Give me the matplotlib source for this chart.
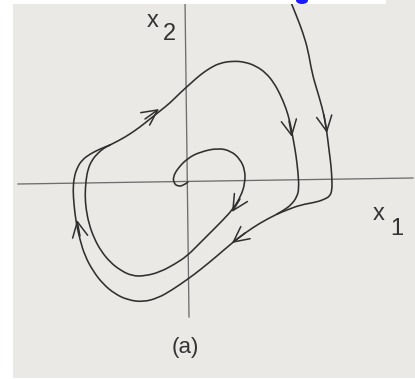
import matplotlib
matplotlib.use("Agg")
import matplotlib.pyplot as plt
from matplotlib.path import Path
from matplotlib.patches import PathPatch, Rectangle, Ellipse
import numpy as np

# Phase-plane trajectories (x1, x2), origin at the axes crossing
outer_x = [102, 109, 115, 120, 124, 129, 132, 136, 139, 141, 143, 144, 144, 142, 137, 129, 112, 99, 89,
           72, 57, 44, 29, 12, 0, -16, -30, -45, -60, -73, -85, -95, -103, -108, -112, -114, -115,
           -114, -111, -106, -98, -88, -78]
outer_y = [182, 165, 149, 132, 109, 92, 82, 67, 49, 32, 17, 2, -8, -14, -17, -20, -23, -28, -32,
           -41, -51, -61, -74, -88, -97, -108, -116, -120, -118, -112, -102, -89, -74, -58, -40, -23, -8,
           4, 14, 22, 28, 33, 37]

cycle_x = [-78, -68, -58, -48, -38, -28, -18, -8, 2, 12, 22, 32, 45, 57, 68, 78, 86, 92, 98, 102,
           105, 108, 110, 111, 109, 103, 96, 89]
cycle_y = [37, 42, 48, 55, 63, 71, 79, 89, 98, 107, 114, 119, 121, 120, 116, 109, 99, 88, 74, 60,
           44, 27, 10, -6, -15, -23, -28, -32]

spiral_x = [0, -5, -11, -14, -15, -10, 0, 12, 30, 43, 52, 57, 57, 53, 45, 35, 22, 9, -1, -13, -28,
            -43, -56, -68, -78, -87, -94, -99, -102, -103, -102, -100, -96, -90, -84, -78]
spiral_y = [0, -4, -4, -1, 5, 14, 24, 30, 34, 31, 23, 12, -1, -14, -27, -38, -51, -64, -74, -82, -90,
            -94, -94, -88, -80, -69, -56, -42, -27, -13, 2, 13, 22, 29, 34, 37]

# Direction arrows: (tail, tip) along the trajectories
arrow_tail = [(136, 67), (101, 61), (-43, 63), (-108, -54), (52, -17), (57, -51)]
arrow_tip = [(139, 49), (104, 45), (-29, 73), (-111, -38), (44, -30), (44, -61)]

# Coordinate axes (slightly skewed, as printed)
haxis_x = [-170, 225]
haxis_y = [-2, 4]
vaxis_x = [-3, 1]
vaxis_y = [182, -135]

ink = "#2f2f2f"
axis_ink = "#6e6e6e"
paper = "#ebe9e5"

fig = plt.figure(figsize=(4.15, 3.79), dpi=100, facecolor="white")
ax = fig.add_axes([0, 0, 1, 1])
ax.set_facecolor(paper)
ax.set_xlim(-188, 227)
ax.set_ylim(-197, 182)
ax.axis("off")
ax.add_patch(Rectangle((0, 0), 1, 1, transform=ax.transAxes, facecolor=paper,
                       edgecolor="none", zorder=0))


def smooth_curve(xs, ys, **kw):
    pts = np.column_stack([xs, ys]).astype(float)
    verts = [pts[0]]
    codes = [Path.MOVETO]
    for i in range(1, len(pts) - 1):
        verts += [pts[i], (pts[i] + pts[i + 1]) / 2]
        codes += [Path.CURVE3, Path.CURVE3]
    verts.append(pts[-1])
    codes.append(Path.LINETO)
    ax.add_patch(PathPatch(Path(verts, codes), facecolor="none", **kw))


ax.plot(haxis_x, haxis_y, color=axis_ink, lw=0.95, zorder=1)
ax.plot(vaxis_x, vaxis_y, color=axis_ink, lw=0.95, zorder=1)

for xs, ys in [(outer_x, outer_y), (cycle_x, cycle_y), (spiral_x, spiral_y)]:
    smooth_curve(xs, ys, edgecolor=ink, lw=1.15, capstyle="round", joinstyle="round", zorder=2)

for tail, tip in zip(arrow_tail, arrow_tip):
    ax.annotate("", xy=tip, xytext=tail,
                arrowprops=dict(arrowstyle="->,head_length=11,head_width=5.5",
                                mutation_scale=1, color=ink, lw=1.1,
                                shrinkA=0, shrinkB=0), zorder=3)

font = ["Liberation Sans", "DejaVu Sans"]
ax.text(-41, 155, "x", fontsize=17, family=font, color="#333333", ha="left", va="baseline")
ax.text(-25, 142, "2", fontsize=17, family=font, color="#333333", ha="left", va="baseline")
ax.text(185, -38, "x", fontsize=17, family=font, color="#333333", ha="left", va="baseline")
ax.text(202, -53, "1", fontsize=17, family=font, color="#333333", ha="left", va="baseline")
ax.text(-3, -165, "(a)", fontsize=16, family=font, color="#333333", ha="center", va="center")

# scan margins
W, H = 415, 379
fig.patches.append(Rectangle((0, 0), 13 / W, 1, transform=fig.transFigure,
                             facecolor="white", edgecolor="none", zorder=5))
fig.patches.append(Rectangle((0, 1 - 4 / H), 386 / W, 4 / H, transform=fig.transFigure,
                             facecolor="white", edgecolor="none", zorder=5))
fig.patches.append(Rectangle((0, 0), 1, 1.2 / H, transform=fig.transFigure,
                             facecolor="white", edgecolor="none", zorder=5))
fig.patches.append(Ellipse((302 / W, 1 - 0.5 / H), 12 / W, 7 / H, transform=fig.transFigure,
                           facecolor="#1a1aff", edgecolor="none", zorder=6))

fig.savefig("out.png", dpi=100, facecolor="white")
